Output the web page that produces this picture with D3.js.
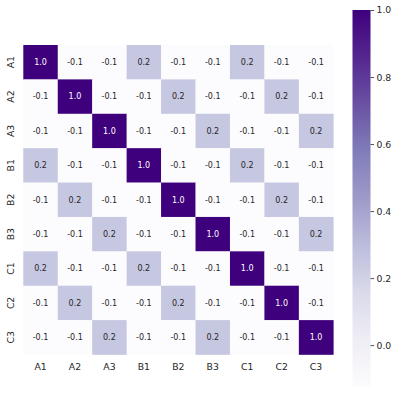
<!DOCTYPE html>
<html><head><meta charset="utf-8">
<script src="https://cdn.jsdelivr.net/npm/d3@7"></script>
<style>body{margin:0;background:#fff}svg{display:block}text{font-family:"DejaVu Sans",sans-serif}</style>
</head><body><svg id="c" width="400" height="400"></svg>
<script>
const labels = ["A1","A2","A3","B1","B2","B3","C1","C2","C3"];
const rowA1 = [1.0,-0.125,-0.125,0.25,-0.125,-0.125,0.25,-0.125,-0.125];
const rowA2 = [-0.125,1.0,-0.125,-0.125,0.25,-0.125,-0.125,0.25,-0.125];
const rowA3 = [-0.125,-0.125,1.0,-0.125,-0.125,0.25,-0.125,-0.125,0.25];
const rowB1 = [0.25,-0.125,-0.125,1.0,-0.125,-0.125,0.25,-0.125,-0.125];
const rowB2 = [-0.125,0.25,-0.125,-0.125,1.0,-0.125,-0.125,0.25,-0.125];
const rowB3 = [-0.125,-0.125,0.25,-0.125,-0.125,1.0,-0.125,-0.125,0.25];
const rowC1 = [0.25,-0.125,-0.125,0.25,-0.125,-0.125,1.0,-0.125,-0.125];
const rowC2 = [-0.125,0.25,-0.125,-0.125,0.25,-0.125,-0.125,1.0,-0.125];
const rowC3 = [-0.125,-0.125,0.25,-0.125,-0.125,0.25,-0.125,-0.125,1.0];
const matrix = [rowA1,rowA2,rowA3,rowB1,rowB2,rowB3,rowC1,rowC2,rowC3];
const cbTicks = [0.0,0.2,0.4,0.6,0.8,1.0];

const purples = ["#fcfbfd","#efedf5","#dadaeb","#bcbddc","#9e9ac8","#807dba","#6a51a3","#54278f","#3f007d"];
const flat = matrix.flat();
const vmin = d3.min(flat), vmax = d3.max(flat);
const norm = d3.scaleLinear().domain([vmin, vmax]).range([0,1]);
const cmapT = d3.scaleLinear().domain(d3.range(9).map(i=>i/8)).range(purples).interpolate(d3.interpolateRgb);
const color = v => cmapT(norm(v));

// Python-style round-half-even to 1 decimal
function fmt(v){
  const s = v*10, f = Math.floor(s), d = s - f;
  let r;
  if (Math.abs(d-0.5) < 1e-9) r = (f % 2 === 0) ? f : f+1;
  else r = Math.round(s);
  const out = (r/10).toFixed(1);
  return out === "-0.0" ? "0.0" : out;
}

const svg = d3.select("#c");
const x = d3.scaleBand().domain(labels).range([23.3, 333.3]);
const y = d3.scaleBand().domain(labels).range([45, 354.5]);
const ink = "#262626";

const g = svg.append("g");
matrix.forEach((row, i) => {
  row.forEach((v, j) => {
    g.append("rect")
      .attr("x", x(labels[j])).attr("y", y(labels[i]))
      .attr("width", x.bandwidth()+0.3).attr("height", y.bandwidth()+0.3)
      .attr("fill", color(v));
    const c = d3.rgb(color(v));
    const lum = 0.2126*c.r/255 + 0.7152*c.g/255 + 0.0722*c.b/255;
    g.append("text")
      .attr("x", x(labels[j]) + x.bandwidth()/2)
      .attr("y", y(labels[i]) + y.bandwidth()/2)
      .attr("dy", "0.36em")
      .attr("text-anchor", "middle")
      .attr("font-size", "8px")
      .attr("fill", lum < 0.408 ? "#ffffff" : ink)
      .text(fmt(v));
  });
});

// x tick labels
const xAxis = d3.axisBottom(x).tickSize(0).tickPadding(0);
const gx = svg.append("g").attr("transform", "translate(0,363)").call(xAxis);
gx.select(".domain").remove();
gx.selectAll("text").attr("font-size","9.3px").attr("fill", ink).attr("dy","0.71em").attr("font-family","DejaVu Sans");

// y tick labels (rotated)
const yAxis = d3.axisLeft(y).tickSize(0).tickPadding(0);
const gy = svg.append("g").attr("transform", "translate(14,0)").call(yAxis);
gy.select(".domain").remove();
gy.selectAll(".tick text")
  .attr("x", 0).attr("dy", 0)
  .attr("text-anchor","middle")
  .attr("transform","rotate(-90)")
  .attr("font-size","9.3px").attr("fill", ink).attr("font-family","DejaVu Sans");

// colorbar
const cbX = 352.5, cbW = 18, cbTop = 10, cbBot = 387;
const cy = d3.scaleLinear().domain([vmin, vmax]).range([cbBot, cbTop]);
const defs = svg.append("defs");
const grad = defs.append("linearGradient").attr("id","cbg").attr("x1",0).attr("y1",1).attr("x2",0).attr("y2",0);
purples.forEach((col, i) => grad.append("stop").attr("offset", i/8).attr("stop-color", col));
svg.append("rect").attr("x", cbX).attr("y", cbTop).attr("width", cbW).attr("height", cbBot-cbTop).attr("fill","url(#cbg)");
const cbAxis = d3.axisRight(cy).tickValues(cbTicks).tickFormat(d3.format(".1f")).tickSize(3.5).tickPadding(2.5);
const gc = svg.append("g").attr("transform", `translate(${cbX+cbW},0)`).call(cbAxis);
gc.select(".domain").remove();
gc.selectAll("line").attr("stroke", ink).attr("stroke-width", 0.8);
gc.selectAll("text").attr("font-size","9.3px").attr("fill", ink).attr("font-family","DejaVu Sans");
</script></body></html>
